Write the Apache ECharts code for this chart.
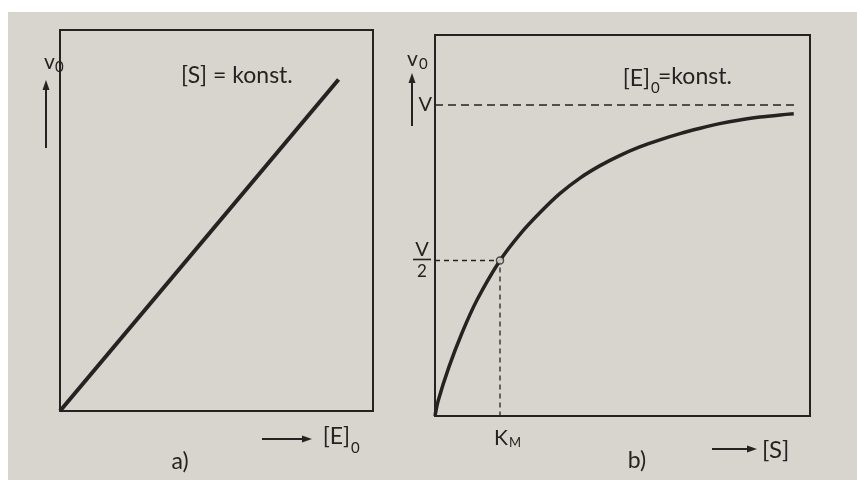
<!DOCTYPE html>
<html>
<head>
<meta charset="utf-8">
<script src="https://cdn.jsdelivr.net/npm/echarts@6/dist/echarts.min.js"></script>
<style>
html,body{margin:0;padding:0;background:#fff;}
#chart{width:857px;height:480px;}
</style>
</head>
<body>
<div id="chart"></div>
<script>
// panel a) v0 against [E]0 at constant [S]: a straight line
var enzymeConc = [0, 89];
var rateA = [0, 87];

// panel b) v0 against [S] at constant [E]0, x in units of K_M, y in units of V
var substrate = [0, 0.05, 0.215, 0.415, 0.646, 1.0, 1.31, 1.62, 1.92, 2.23, 2.54, 2.85, 3.15, 3.46, 3.77, 4.08, 4.38, 4.69, 5.0, 5.31, 5.52];
var rateB = [0, 0.05, 0.158, 0.267, 0.373, 0.5, 0.585, 0.655, 0.715, 0.765, 0.805, 0.838, 0.865, 0.888, 0.908, 0.925, 0.94, 0.952, 0.961, 0.968, 0.972];
var vMax = 1;
var kM = 1;
var vLineEnd = 5.6;

var ink = '#252321';
var paper = '#d8d5ce';
var font = 'Lato, "Open Sans", sans-serif';

var chart = echarts.init(document.getElementById('chart'));

function pairs(xs, ys) {
    return xs.map(function (x, i) { return [x, ys[i]]; });
}

chart.setOption({
    animation: false,
    backgroundColor: paper,
    grid: [
        {left: 60, top: 30, width: 313, height: 381, show: true, borderColor: ink, borderWidth: 2},
        {left: 435, top: 35, width: 375, height: 381, show: true, borderColor: ink, borderWidth: 2}
    ],
    xAxis: [
        {type: 'value', gridIndex: 0, min: 0, max: 100, show: false},
        {type: 'value', gridIndex: 1, min: 0, max: 5.77, show: false}
    ],
    yAxis: [
        {type: 'value', gridIndex: 0, min: 0, max: 100, show: false},
        {type: 'value', gridIndex: 1, min: 0, max: 1.225, show: false}
    ],
    series: [
        {
            type: 'line', xAxisIndex: 0, yAxisIndex: 0,
            data: pairs(enzymeConc, rateA),
            showSymbol: false,
            lineStyle: {color: ink, width: 4}
        },
        {
            type: 'line', xAxisIndex: 1, yAxisIndex: 1,
            data: pairs(substrate, rateB),
            showSymbol: false, smooth: 0.3,
            lineStyle: {color: ink, width: 3.5}
        },
        {
            type: 'line', xAxisIndex: 1, yAxisIndex: 1,
            data: [[0, vMax], [vLineEnd, vMax]],
            showSymbol: false,
            lineStyle: {color: ink, width: 1.5, type: [8, 5]}
        },
        {
            type: 'line', xAxisIndex: 1, yAxisIndex: 1,
            data: [[0, vMax / 2], [kM, vMax / 2], [kM, 0]],
            showSymbol: false,
            lineStyle: {color: ink, width: 1.3, type: [5, 4]}
        },
        {
            type: 'scatter', xAxisIndex: 1, yAxisIndex: 1, z: 5,
            data: [[kM, vMax / 2]],
            symbol: 'circle', symbolSize: 7,
            itemStyle: {color: '#ece9e2', borderColor: ink, borderWidth: 1.5}
        }
    ]
});

// label positions taken from the scales
var pV = chart.convertToPixel({gridIndex: 1}, [0, vMax]);
var pHalf = chart.convertToPixel({gridIndex: 1}, [0, vMax / 2]);
var pK = chart.convertToPixel({gridIndex: 1}, [kM, 0]);

function txt(text, x, y, size, align, vAlign) {
    return {
        type: 'text', z: 10,
        style: {text: text, x: x, y: y, font: size + 'px ' + font, fill: ink,
            align: align || 'left', verticalAlign: vAlign || 'middle'}
    };
}
function upArrow(x, yTop, yBottom) {
    return [
        {type: 'line', z: 10, shape: {x1: x, y1: yBottom, x2: x, y2: yTop + 7}, style: {stroke: ink, lineWidth: 2}},
        {type: 'polygon', z: 10, shape: {points: [[x, yTop], [x - 3.5, yTop + 10], [x + 3.5, yTop + 10]]}, style: {fill: ink}}
    ];
}
function rightArrow(y, xLeft, xRight) {
    return [
        {type: 'line', z: 10, shape: {x1: xLeft, y1: y, x2: xRight - 7, y2: y}, style: {stroke: ink, lineWidth: 2}},
        {type: 'polygon', z: 10, shape: {points: [[xRight, y], [xRight - 10, y - 3.5], [xRight - 10, y + 3.5]]}, style: {fill: ink}}
    ];
}

var g = [
    {type: 'rect', z: 20, shape: {x: 0, y: 0, width: 857, height: 12}, style: {fill: '#ffffff'}},
    {type: 'rect', z: 20, shape: {x: 0, y: 0, width: 8, height: 480}, style: {fill: '#ffffff'}},

    // panel a
    txt('v', 44, 62, 21),
    txt('0', 55, 67, 15),
    txt('[S] = konst.', 181, 76, 23),
    txt('[E]', 350, 437, 23, 'right'),
    txt('0', 351, 448, 15),
    txt('a)', 180, 462, 23, 'center'),

    // panel b
    txt('v', 407, 59, 21),
    txt('0', 419, 64, 15),
    txt('[E]', 650, 79, 23, 'right'),
    txt('0', 651, 88, 15),
    txt('=konst.', 658, 77, 23),
    txt('V', pV[0] - 3, pV[1], 20, 'right'),
    txt('V', pHalf[0] - 13, pHalf[1] - 11, 20, 'center'),
    {type: 'line', z: 10, shape: {x1: pHalf[0] - 22, y1: pHalf[1] - 1, x2: pHalf[0] - 4, y2: pHalf[1] - 1}, style: {stroke: ink, lineWidth: 1.6}},
    txt('2', pHalf[0] - 13, pHalf[1] + 11, 17, 'center'),
    txt('K', pK[0] - 6, pK[1] + 22, 21),
    txt('M', pK[0] + 9, pK[1] + 27, 13),
    txt('[S]', 762, 450, 24),
    txt('b)', 637, 461, 23, 'center')
];
g = g.concat(upArrow(46, 80, 148), upArrow(412, 73, 126), rightArrow(439, 262, 312), rightArrow(449, 712, 757));

chart.setOption({graphic: g});
</script>
</body>
</html>
